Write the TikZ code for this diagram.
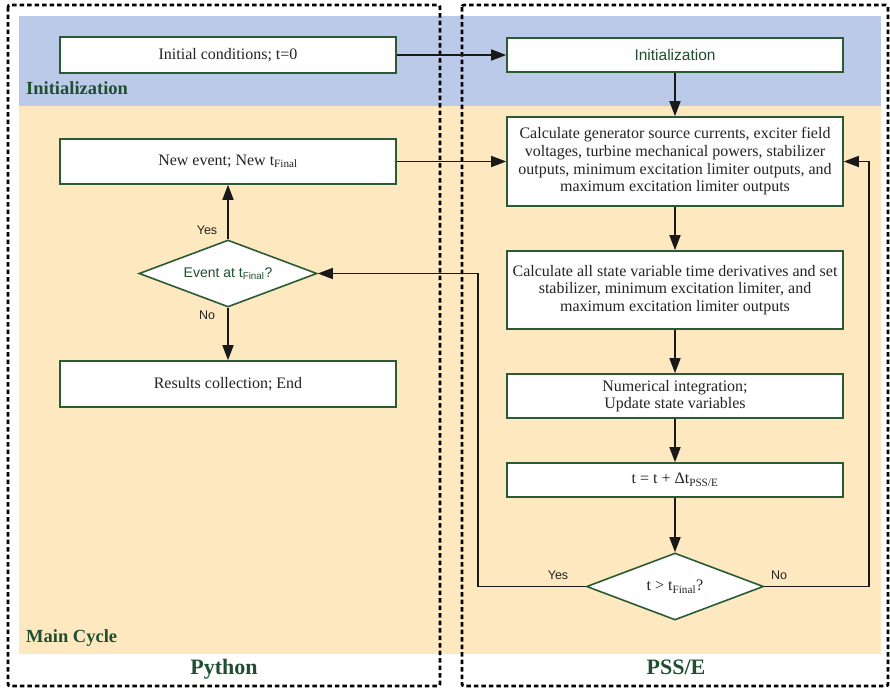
\documentclass[tikz,border=0pt]{standalone}
\usepackage{fontspec}
\setmainfont{Liberation Serif}
\newfontfamily\sansf{Liberation Sans}
\usetikzlibrary{shapes.geometric,arrows.meta}
\definecolor{bandblue}{HTML}{BCCAEA}
\definecolor{bandtan}{HTML}{FDE8BF}
\definecolor{dkgreen}{HTML}{1F4F30}
\definecolor{boxgreen}{HTML}{2B5B35}
\definecolor{txtgray}{HTML}{242424}
\tikzset{
  x=1pt,y=-1pt,
  procbox/.style={draw=boxgreen,line width=1.6pt,fill=white,text=txtgray,
    font=\fontsize{16}{17.7}\selectfont,align=center,inner sep=0pt,
    minimum width=336pt},
  sansbox/.style={procbox,font=\sansf\fontsize{15.5}{17.7}\selectfont,text=dkgreen},
  decision/.style={diamond,draw=boxgreen,line width=1.6pt,fill=white,inner sep=0pt,
    aspect=2.64,align=center},
  conn/.style={line width=1.6pt,draw=black!90},
  arr/.style={conn,-{Triangle[length=15pt,width=11pt]}},
  yesno/.style={font=\sansf\fontsize{12.5}{14}\selectfont,text=txtgray,inner sep=0pt},
  bandlabel/.style={font=\bfseries\fontsize{18.5}{20}\selectfont,text=dkgreen,inner sep=0pt},
  sidelabel/.style={font=\bfseries\fontsize{22}{24}\selectfont,text=dkgreen,inner sep=0pt},
  region/.style={line width=2.8pt,dash pattern=on 4.5pt off 3pt,rounded corners=2pt}
}
\newcommand{\lowsub}[1]{\raisebox{-0.45ex}{\fontsize{0.68em}{1em}\selectfont #1}}
\begin{document}
\begin{tikzpicture}
\useasboundingbox (0,0) rectangle (890,688);
% bands
\fill[bandblue] (19,16) rectangle (881,106);
\fill[bandtan] (19,106) rectangle (881,654);
% region frames
\draw[region] (8,5) rectangle (440,686);
\draw[region] (462,5) rectangle (888,686);
% band labels
\node[bandlabel,anchor=base west] (lblinit) at (26,94) {Initialization};
\node[bandlabel,anchor=base west] (lblmain) at (26,642) {Main Cycle};
\node[sidelabel,anchor=base] (lblpy) at (224,674) {Python};
\node[sidelabel,anchor=base] (lblpss) at (676,674) {PSS/E};
% python side
\node[procbox,minimum height=36pt] (ic) at (228,55) {Initial conditions; t=0};
\node[procbox,minimum height=45pt] (newev) at (228,161.5) {New event; New t\textsubscript{Final}};
\node[decision,minimum width=178pt,minimum height=67pt,text=dkgreen,
  font=\sansf\fontsize{14}{16}\selectfont] (evt) at (228,273.5) {Event at t\textsubscript{Final}?};
\node[procbox,minimum height=46pt] (res) at (228,384) {Results collection; End};
% pss/e side
\node[sansbox,minimum height=34pt] (init) at (675,55) {Initialization};
\node[procbox,minimum height=89pt] (calc1) at (675,161.5) {Calculate generator source currents, exciter field\\voltages, turbine mechanical powers, stabilizer\\outputs, minimum excitation limiter outputs, and\\maximum excitation limiter outputs};
\node[procbox,minimum height=78pt] (calc2) at (675,290) {Calculate all state variable time derivatives and set\\stabilizer, minimum excitation limiter, and\\maximum excitation limiter outputs};
\node[procbox,minimum height=44pt] (numint) at (675,396) {Numerical integration;\\Update state variables};
\node[procbox,minimum height=34pt] (tupd) at (675,480) {t = t + Δt\textsubscript{PSS/E}};
\node[decision,minimum width=177pt,minimum height=67pt,text=txtgray,
  font=\fontsize{16}{18}\selectfont] (tchk) at (675,586.5) {t > t\textsubscript{Final}?};
% routing coordinates
\coordinate (yesx) at (478,586.5);
\coordinate (nox) at (869,586.5);
% connectors
\draw[arr] (ic.east) -- (init.west);
\draw[arr] (init.south) -- (calc1.north);
\draw[arr] (newev.east) -- (calc1.west);
\draw[arr] (calc1.south) -- (calc2.north);
\draw[arr] (calc2.south) -- (numint.north);
\draw[arr] (numint.south) -- (tupd.north);
\draw[arr] (tupd.south) -- (tchk.north);
\draw[arr] (tchk.west) -- (yesx) |- (evt.east);
\draw[arr] (tchk.east) -- (nox) |- (calc1.east);
\draw[arr] (evt.north) -- (newev.south);
\draw[arr] (evt.south) -- (res.north);
% labels
\node[yesno] (y1) at (207,230) {Yes};
\node[yesno] (n1) at (207,315) {No};
\node[yesno] (y2) at (558,575) {Yes};
\node[yesno] (n2) at (779,575) {No};
\end{tikzpicture}
\end{document}
